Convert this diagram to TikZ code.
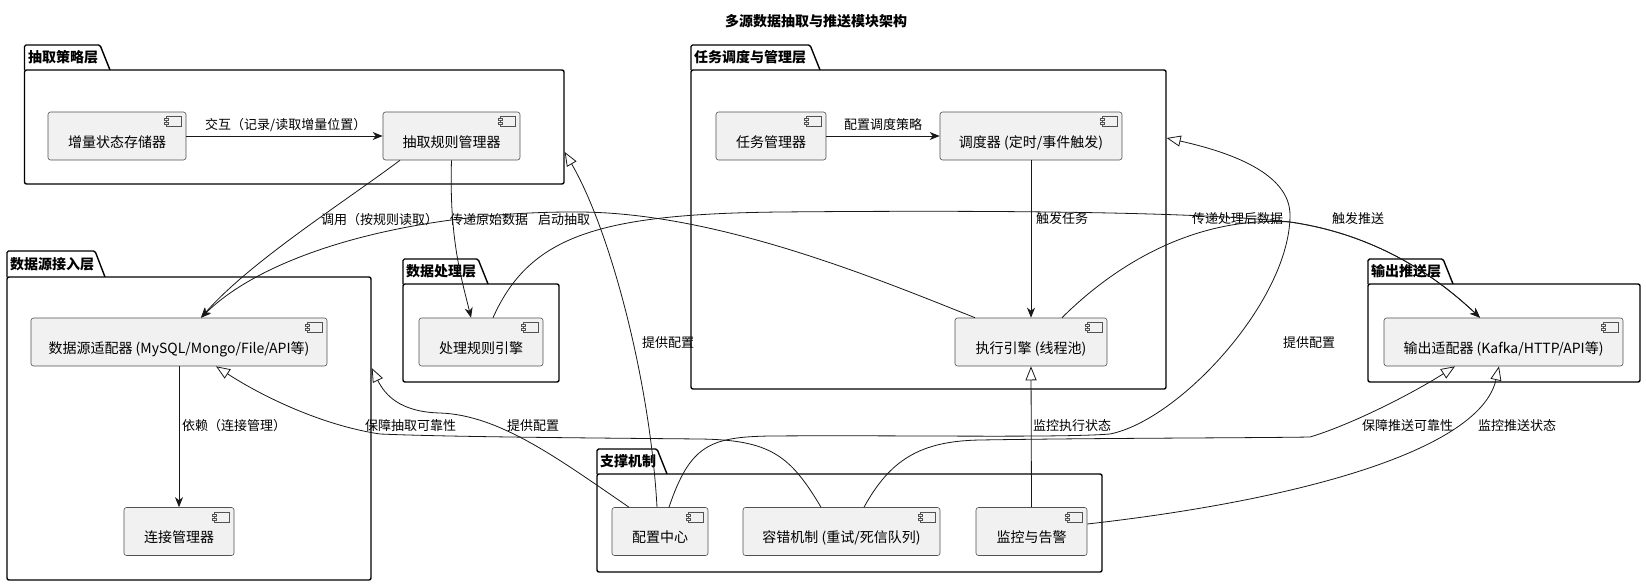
\documentclass[tikz,border=0pt]{standalone}
\usepackage{fontspec}
\setmainfont{Noto Sans CJK SC}
\usetikzlibrary{arrows.meta,calc}
\definecolor{compfill}{HTML}{F1F1F1}
\definecolor{lineclr}{HTML}{181818}
\begin{document}
\begin{tikzpicture}[x=1pt,y=-1pt,
  comp/.style={draw=lineclr!75, line width=0.6pt, fill=compfill, rounded corners=2.5pt,
    minimum height=48pt, inner sep=0pt, font=\fontsize{14}{16}\selectfont,
    text height=24pt, text depth=2pt},
  icon/.style={draw=lineclr!75, line width=0.5pt, fill=compfill},
  pkg/.style={draw=black, line width=1.4pt, fill=white, rounded corners=2pt, inner sep=0pt},
  pkgtab/.style={draw=black, line width=1.4pt, fill=white, rounded corners=1.5pt},
  plab/.style={anchor=west, inner sep=0pt, font=\bfseries\fontsize{14}{16}\selectfont},
  elab/.style={anchor=west, inner sep=0pt, font=\fontsize{13}{15}\selectfont},
  conn/.style={draw=lineclr, line width=0.8pt},
  arr/.style={conn, -{Stealth[length=10pt,width=8pt,inset=3pt]}},
  ext/.style={conn, -{Triangle[length=14pt,width=11pt,fill=white]}}
]
\useasboundingbox (0,0) rectangle (1646,586);
\fill[white] (0,0) rectangle (1646,586);

\node[font=\bfseries\fontsize{14}{16}\selectfont] (title) at (816,21) {多源数据抽取与推送模块架构};

% packages
\filldraw[pkgtab] (24.5,70) -- (24.5,45) -- (100,45) -- (110,70);
\node[pkg, minimum width=539.5pt, minimum height=114pt] (Pext) at (294.25,127) {};
\node[plab] (T1) at (28,57.5) {抽取策略层};

\filldraw[pkgtab] (691,70) -- (691,45) -- (810,45) -- (820,70);
\node[pkg, minimum width=475pt, minimum height=319pt] (Ptask) at (928.5,229.5) {};
\node[plab] (T2) at (694,57.5) {任务调度与管理层};

\filldraw[pkgtab] (7,277) -- (7,251) -- (95,251) -- (105,277);
\node[pkg, minimum width=364pt, minimum height=303pt] (Pdsa) at (189,428.5) {};
\node[plab] (T3) at (10,264) {数据源接入层};

\filldraw[pkgtab] (403,284) -- (403,259) -- (478,259) -- (488,284);
\node[pkg, minimum width=156pt, minimum height=98pt] (Pproc) at (481,333) {};
\node[plab] (T4) at (406,271.5) {数据处理层};

\filldraw[pkgtab] (1368,284) -- (1368,259) -- (1443,259) -- (1453,284);
\node[pkg, minimum width=272pt, minimum height=98pt] (Pout) at (1504,333) {};
\node[plab] (T5) at (1371,271.5) {输出推送层};

\filldraw[pkgtab] (597,474) -- (597,449) -- (657,449) -- (667,474);
\node[pkg, minimum width=505pt, minimum height=98pt] (Psup) at (849.5,523) {};
\node[plab] (T6) at (600,461.5) {支撑机制};

% components
\node[comp, minimum width=138pt] (ISS) at (117,136) {增量状态存储器};
\node[comp, minimum width=137pt] (ERM) at (451.5,136) {抽取规则管理器};
\node[comp, minimum width=110pt] (TM) at (771,136) {任务管理器};
\node[comp, minimum width=182pt] (SCH) at (1031,136) {调度器 (定时/事件触发)};
\node[comp, minimum width=152pt] (EE) at (1031,342) {执行引擎 (线程池)};
\node[comp, minimum width=296pt] (DSA) at (179,342) {数据源适配器 (MySQL/Mongo/File/API等)};
\node[comp, minimum width=124pt] (PRE) at (481,342) {处理规则引擎};
\node[comp, minimum width=239pt] (OA) at (1503.5,342) {输出适配器 (Kafka/HTTP/API等)};
\node[comp, minimum width=110pt] (CM) at (179,531.5) {连接管理器};
\node[comp, minimum width=96pt] (CC) at (660,531.5) {配置中心};
\node[comp, minimum width=197pt] (FT) at (841.5,531.5) {容错机制 (重试/死信队列)};
\node[comp, minimum width=111pt] (MON) at (1031.5,531.5) {监控与告警};

\foreach \n in {ISS,ERM,TM,SCH,EE,DSA,PRE,OA,CM,CC,FT,MON}{
  \draw[icon] ($(\n.north east)+(-20,5)$) rectangle ($(\n.north east)+(-5,15)$);
  \draw[icon] ($(\n.north east)+(-22,7)$) rectangle ($(\n.north east)+(-18,9)$);
  \draw[icon] ($(\n.north east)+(-22,11)$) rectangle ($(\n.north east)+(-18,13)$);
}

% edge labels
\node[elab] (l1) at (205,125) {交互（记录/读取增量位置）};
\node[elab] (l2) at (844,125) {配置调度策略};
\node[elab] (l3) at (321,220) {调用（按规则读取）};
\node[elab] (l4) at (450,220) {传递原始数据};
\node[elab] (l5) at (538,220) {启动抽取};
\node[elab] (l6) at (1036,219) {触发任务};
\node[elab] (l7) at (1192,219) {传递处理后数据};
\node[elab] (l8) at (1332,219) {触发推送};
\node[elab] (l9) at (642,343) {提供配置};
\node[elab] (l10) at (1283,343) {提供配置};
\node[elab] (l11) at (182,426) {依赖（连接管理）};
\node[elab] (l12) at (365,426) {保障抽取可靠性};
\node[elab] (l13) at (507,426) {提供配置};
\node[elab] (l14) at (1033,426) {监控执行状态};
\node[elab] (l15) at (1362,426) {保障推送可靠性};
\node[elab] (l16) at (1478,426) {监控推送状态};

% edges
\draw[arr] (ISS.east) -- (ERM.west);
\draw[arr] (TM.east) -- (SCH.west);
\draw[arr] (SCH.south) -- (EE.north);
\draw[arr] (DSA.south) -- (CM.north);
\draw[ext] (MON.north) -- (EE.south);

\draw[arr] ($(ERM.south)+(-51.5,0)$) .. controls (340,205) and (250,262) .. ($(DSA.north)+(22,0)$);
\draw[arr] ($(EE.north)+(-56,0)$) .. controls (880,280) and (720,213) .. (580,212)
   .. controls (420,211) and (270,250) .. ($(DSA.north)+(22,0)$);
\draw[arr] (ERM.south) .. controls (449,240) and (462,280) .. ($(PRE.north)+(-10,0)$);
\draw[arr] ($(PRE.north)+(12,0)$) .. controls (530,235) and (600,214) .. (780,212)
   .. controls (1000,210) and (1200,212) .. (1290,222)
   .. controls (1380,235) and (1440,280) .. ($(OA.north)+(-23.5,0)$);
\draw[arr] ($(EE.north)+(31,0)$) .. controls (1120,260) and (1200,216) .. (1290,222)
   .. controls (1380,235) and (1440,280) .. ($(OA.north)+(-23.5,0)$);

\draw[ext] ($(CC.north)+(-3,0)$) .. controls (650,380) and (610,230) .. ($(Pext.east)+(0,25)$);
\draw[ext] ($(CC.north)+(9,0)$) .. controls (690,445) and (710,437) .. (770,436)
   .. controls (900,435) and (1060,438) .. (1110,434)
   .. controls (1180,420) and (1290,300) .. (1290,215)
   .. controls (1290,170) and (1220,150) .. ($(Ptask.east)+(0,-91.5)$);
\draw[ext] ($(CC.north)+(-31,0)$) .. controls (560,460) and (500,415) .. (440,413)
   .. controls (400,412) and (385,395) .. ($(Pdsa.east)+(0,-60.5)$);
\draw[ext] ($(FT.north)+(-20.5,0)$) .. controls (790,455) and (770,440) .. (700,439)
   .. controls (600,438) and (450,437) .. (380,434)
   .. controls (320,425) and (260,395) .. ($(DSA.south)+(37,0)$);
\draw[ext] ($(FT.north)+(22.5,0)$) .. controls (890,460) and (920,441) .. (980,440)
   .. controls (1100,438) and (1250,438) .. (1310,437)
   .. controls (1350,425) and (1410,395) .. ($(OA.south)+(-48.5,0)$);
\draw[ext] ($(MON.east)+(0,-7.5)$) .. controls (1300,500) and (1480,450) .. ($(OA.south)+(-4.5,0)$);
\end{tikzpicture}
\end{document}
